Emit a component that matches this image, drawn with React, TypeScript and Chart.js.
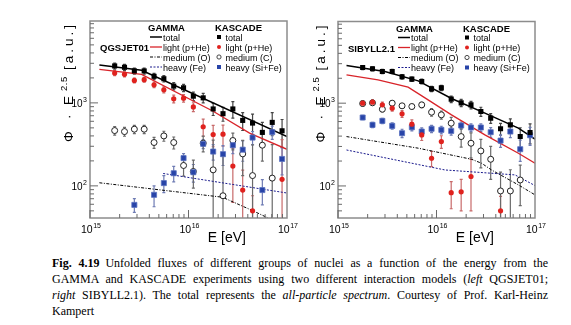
import React, { useEffect, useRef } from "react";
import { Chart, registerables } from "chart.js";
Chart.register(...registerables);

// ---------- DATA ----------
const energies = [1.78e15, 2.24e15, 2.82e15, 3.55e15, 4.47e15, 5.62e15, 7.08e15, 8.91e15, 1.12e16, 1.41e16, 1.78e16, 2.24e16, 2.82e16, 3.55e16, 4.47e16, 5.62e16, 7.08e16, 8.91e16];

const xTicks = [1e15, 1e16, 1e17];
const xTickLabels = [["10", "15"], ["10", "16"], ["10", "17"]];
const yTicks = [100, 1000];
const yTickLabels = [["10", "2"], ["10", "3"]];

// QGSJET01 – KASCADE unfolded fluxes
const qTotal = [2786, 2685, 2427, 2427, 2089, 1955, 1593, 1520, 1205, 1150, 845, 741, 845, 615, 571, 441, 582, 461];
const qTotalErr = [230, 220, 200, 200, 180, 170, 160, 150, 140, 150, 140, 140, 190, 150, 160, 140, 180, 170];
const qLight = [2291, 2208, 1866, 1902, 1655, 1439, 1118, 1139, 894, 516, 416, 420, 173, 89, 50, null, null, 120];
const qLightErr = [160, 150, 130, 130, 130, 120, 120, 120, 110, 120, 120, 120, 110, 66, 26, null, null, 240];
const qMedium = [464, 451, 482, 482, 333, 400, 333, 176, 149, 327, 156, 76, 352, 243, 133, 309, 124, null];
const qMediumErr = [55, 55, 55, 55, 50, 55, 55, 45, 55, 70, 200, 150, 80, 110, 180, 110, 190, null];
const qHeavy = [null, null, 59, null, 78, 108, 142, 216, 146, 321, 259, 241, 309, 273, 382, 89, 444, 211];
const qHeavyErr = [null, null, 11, null, 22, 25, 30, 28, 35, 40, 55, 65, 65, 75, 70, 30, 80, 75];

// QGSJET01 – GAMMA model lines
const qLineTotalE = [1.245e15, 3.34e15, 1e17];
const qLineTotal = [2864, 2472, 393];
const qLineLightE = [1.245e15, 3.34e15, 1.78e16, 4.17e16, 1e17];
const qLineLight = [2541, 2208, 793, 433, 276];
const qLineMediumE = [1.245e15, 2.21e16, 4.52e16, 1e17];
const qLineMedium = [109, 73, 50, 32];
const qLineHeavyE = [5.53e15, 1e17];
const qLineHeavy = [141, 82];

// SIBYLL2.1 – KASCADE unfolded fluxes
const sTotal = [2699, 2601, 2416, 2416, 2083, 1951, 1828, 1490, 1531, 1118, 1009, 954, 793, 659, 490, 547, 395, 442];
const sTotalErr = [150, 150, 140, 140, 130, 120, 120, 110, 110, 100, 100, 100, 100, 90, 80, 100, 110, 120];
const sLight = [1000, 1028, 954, 871, 743, 557, 414, 216, 344, 83, 85, 130, null, null, 50, null, null, null];
const sLightErr = [70, 70, 80, 70, 70, 70, 60, 45, 60, 30, 35, 80, null, null, 25, null, null, null];
const sMedium = [990, 1010, 846, 1000, 929, 911, 954, 778, 723, 573, 395, 328, 265, 210, 87, 87, 118, null];
const sMediumErr = [60, 60, 60, 60, 60, 60, 70, 80, 80, 100, 100, 110, 100, 90, 60, 70, 60, null];
const sHeavy = [671, 547, 611, 532, 434, 512, 454, 490, 476, 462, 537, 508, 508, 446, 353, 454, 278, 410];
const sHeavyErr = [40, 40, 45, 45, 50, 50, 50, 50, 50, 50, 55, 55, 55, 60, 60, 70, 80, 100];

// SIBYLL2.1 – GAMMA model lines
const sLineTotalE = [1.22e15, 2.99e15, 6.52e15, 1.42e16, 3.1e16, 6.78e16, 1e17];
const sLineTotal = [2856, 2416, 1862, 1139, 757, 499, 367];
const sLineLightE = [1.22e15, 2.55e15, 5.15e15, 8.22e15, 1.42e16, 3.1e16, 6.78e16, 1e17];
const sLineLight = [2203, 1914, 1562, 1097, 723, 414, 248, 188];
const sLineMediumE = [1.22e15, 6.52e15, 2.27e16, 2.87e16, 3.62e16, 6.78e16, 1e17];
const sLineMedium = [395, 286, 210, 188, 156, 103, 78];
const sLineHeavyE = [1.22e15, 1.22e16, 6.27e16, 1e17];
const sLineHeavy = [272, 156, 136, 101];

const gammaLabels = ["total", "light (p+He)", "medium (O)", "heavy (Fe)"];
const kascadeLabels = ["total", "light (p+He)", "medium (C)", "heavy (Si+Fe)"];

// ---------- STYLE ----------
const SANS = '"Liberation Sans", Arial, sans-serif';
const C_BLACK = "#000000";
const C_RED = "#e0221e";
const C_RED_LINE = "#d8242a";
const C_BLUE = "#2844a8";
const C_BLUE_LINE = "#1a1a8c";
const C_FRAME = "#8c8c8c";

function pts(values: (number | null)[], errs: (number | null)[] | null, xs: number[]) {
  const out: any[] = [];
  values.forEach((v, i) => {
    if (v == null) return;
    out.push({ x: xs[i], y: v, e: errs ? errs[i] : null });
  });
  return out;
}

function drawSup(ctx: CanvasRenderingContext2D, base: string, sup: string, x: number, y: number, align: "center" | "right" | "left", size: number, supSize: number, rise: number) {
  ctx.font = `${size}px ${SANS}`;
  const wb = ctx.measureText(base).width;
  ctx.font = `${supSize}px ${SANS}`;
  const ws = ctx.measureText(sup).width;
  const total = wb + ws + 0.5;
  let sx = x;
  if (align === "center") sx = x - total / 2;
  else if (align === "right") sx = x - total;
  ctx.textAlign = "left";
  ctx.textBaseline = "alphabetic";
  ctx.font = `${size}px ${SANS}`;
  ctx.fillText(base, sx, y);
  ctx.font = `${supSize}px ${SANS}`;
  ctx.fillText(sup, sx + wb + 0.5, y - rise);
}

// draw text char by char with extra gap, returns end x
function spaced(ctx: CanvasRenderingContext2D, s: string, x: number, y: number, gap: number) {
  let cx = x;
  for (const ch of s) {
    ctx.fillText(ch, cx, y);
    cx += ctx.measureText(ch).width + gap;
  }
  return cx;
}

function drawMarker(ctx: CanvasRenderingContext2D, kind: string, x: number, y: number) {
  ctx.save();
  if (kind === "square") {
    ctx.fillStyle = C_BLACK;
    ctx.fillRect(x - 2, y - 2, 4, 4);
  } else if (kind === "red") {
    ctx.fillStyle = C_RED;
    ctx.beginPath();
    ctx.arc(x, y, 2, 0, Math.PI * 2);
    ctx.fill();
  } else if (kind === "open") {
    ctx.strokeStyle = "#333";
    ctx.lineWidth = 0.9;
    ctx.beginPath();
    ctx.arc(x, y, 2.1, 0, Math.PI * 2);
    ctx.stroke();
  } else {
    ctx.fillStyle = C_BLUE;
    ctx.fillRect(x - 2, y - 2, 4, 4);
  }
  ctx.restore();
}

type PanelDef = {
  model: string;
  pad: { left: number; right: number; top: number; bottom: number };
  yTitleX: number;
  total: number[]; totalErr: number[];
  light: (number | null)[]; lightErr: (number | null)[];
  medium: (number | null)[]; mediumErr: (number | null)[];
  heavy: (number | null)[]; heavyErr: (number | null)[];
  lines: { e: number[]; v: number[] }[];
};

function makePlugin(p: PanelDef) {
  return {
    id: "decor",
    beforeDatasetsDraw(chart: any) {
      const ctx: CanvasRenderingContext2D = chart.ctx;
      const a = chart.chartArea;
      const ys = chart.scales.y;
      ctx.save();
      ctx.beginPath();
      ctx.rect(a.left, a.top, a.right - a.left, a.bottom - a.top);
      ctx.clip();
      chart.data.datasets.forEach((ds: any, i: number) => {
        if (!ds.errorColor) return;
        const meta = chart.getDatasetMeta(i);
        ctx.strokeStyle = ds.errorColor;
        ctx.lineWidth = 1.2;
        ds.data.forEach((pt: any, j: number) => {
          if (pt.e == null) return;
          const el = meta.data[j];
          const px = el.x;
          const hi = ys.getPixelForValue(pt.y + pt.e);
          const lv = pt.y - pt.e;
          const lo = lv > ys.min ? ys.getPixelForValue(lv) : a.bottom + 3;
          ctx.beginPath();
          ctx.moveTo(px, hi);
          ctx.lineTo(px, lo);
          ctx.moveTo(px - 1.5, hi);
          ctx.lineTo(px + 1.5, hi);
          ctx.moveTo(px - 1.5, lo);
          ctx.lineTo(px + 1.5, lo);
          ctx.stroke();
        });
      });
      ctx.restore();
    },
    afterDatasetsDraw(chart: any) {
      const ctx: CanvasRenderingContext2D = chart.ctx;
      const a = chart.chartArea;
      const xs = chart.scales.x;
      const ys = chart.scales.y;
      ctx.save();
      // frame
      ctx.strokeStyle = C_FRAME;
      ctx.lineWidth = 1.5;
      ctx.strokeRect(a.left, a.top, a.right - a.left, a.bottom - a.top);
      // ticks
      ctx.strokeStyle = "#6a6a6a";
      ctx.lineWidth = 1;
      ctx.beginPath();
      for (let k = 15; k <= 16; k++) {
        for (let d = 1; d <= 9; d++) {
          const v = d * Math.pow(10, k);
          if (v < xs.min || v > xs.max) continue;
          const px = xs.getPixelForValue(v);
          const len = d === 1 ? 8 : 4;
          ctx.moveTo(px, a.bottom);
          ctx.lineTo(px, a.bottom - len);
        }
      }
      for (let k = 1; k <= 3; k++) {
        for (let d = 1; d <= 9; d++) {
          const v = d * Math.pow(10, k);
          if (v < ys.min || v > ys.max) continue;
          const py = ys.getPixelForValue(v);
          const len = d === 1 ? 8 : 4;
          ctx.moveTo(a.left, py);
          ctx.lineTo(a.left + len, py);
        }
      }
      ctx.stroke();
      // tick labels
      ctx.fillStyle = "#000";
      xTicks.forEach((v, i) => {
        const px = xs.getPixelForValue(v);
        drawSup(ctx, xTickLabels[i][0], xTickLabels[i][1], px + 1, a.bottom + 15, "center", 10.5, 7, 5);
      });
      yTicks.forEach((v, i) => {
        const py = ys.getPixelForValue(v);
        drawSup(ctx, yTickLabels[i][0], yTickLabels[i][1], a.left - 3, py + 4, "right", 10, 7, 5);
      });
      // x title
      ctx.font = `14px ${SANS}`;
      ctx.textAlign = "right";
      ctx.textBaseline = "alphabetic";
      ctx.fillText("E [eV]", a.right - 41, a.bottom + 24);
      // y title (rotated, reads bottom-to-top, ends at the frame top)
      ctx.save();
      ctx.translate(p.yTitleX, a.top);
      ctx.rotate(-Math.PI / 2);
      ctx.textAlign = "left";
      ctx.textBaseline = "alphabetic";
      ctx.font = `13.5px ${SANS}`;
      ctx.fillText("\u03A6", -121, 0);
      ctx.fillText("\u00B7", -98, 0);
      ctx.fillText("E", -84, 0);
      ctx.font = `9.5px ${SANS}`;
      spaced(ctx, "2.5", -70, -6, 0.5);
      ctx.font = `13.5px ${SANS}`;
      spaced(ctx, "[a.u.]", -49, 0, 3);
      ctx.restore();

      // legend
      const L = a.left;
      const T = a.top;
      ctx.fillStyle = "#000";
      ctx.textAlign = "left";
      ctx.textBaseline = "alphabetic";
      ctx.font = `bold 9.5px ${SANS}`;
      ctx.fillText("GAMMA", L + 58, T + 10);
      ctx.fillText("KASCADE", L + 125, T + 10);
      ctx.fillText(p.model, L + 10, T + 30);
      const rows = [16, 26, 36, 46];
      const lineStyles = [
        { c: C_BLACK, d: [] as number[], w: 1.5 },
        { c: C_RED_LINE, d: [] as number[], w: 1.3 },
        { c: C_BLACK, d: [3, 1.5, 1, 1.5], w: 1 },
        { c: C_BLUE_LINE, d: [2, 1.5], w: 1 },
      ];
      const kinds = ["square", "red", "open", "blue"];
      rows.forEach((r, i) => {
        const yy = T + r;
        ctx.save();
        ctx.strokeStyle = lineStyles[i].c;
        ctx.lineWidth = lineStyles[i].w;
        ctx.setLineDash(lineStyles[i].d);
        ctx.beginPath();
        ctx.moveTo(L + 60, yy);
        ctx.lineTo(L + 72, yy);
        ctx.stroke();
        ctx.restore();
        ctx.fillStyle = "#000";
        ctx.font = `9px ${SANS}`;
        ctx.fillText(gammaLabels[i], L + 73, yy + 3.5);
        drawMarker(ctx, kinds[i], L + 129, yy);
        ctx.fillStyle = "#000";
        ctx.font = `9px ${SANS}`;
        ctx.fillText(kascadeLabels[i], L + 135.5, yy + 3.5);
      });
      ctx.restore();
    },
  };
}

function makeConfig(p: PanelDef): any {
  const lineStyle = [
    { c: C_BLACK, d: [], w: 1.5 },
    { c: C_RED_LINE, d: [], w: 1.3 },
    { c: C_BLACK, d: [3, 1.5, 1, 1.5], w: 1 },
    { c: C_BLUE_LINE, d: [2, 1.5], w: 1 },
  ];
  const lineSets = p.lines.map((l, i) => ({
    data: l.e.map((e, j) => ({ x: e, y: l.v[j] })),
    showLine: true,
    pointRadius: 0,
    borderColor: lineStyle[i].c,
    borderWidth: lineStyle[i].w,
    borderDash: lineStyle[i].d,
    order: 10 + i,
    clip: 0,
  }));
  const datasets = [
    ...lineSets,
    {
      data: pts(p.total, p.totalErr, energies),
      pointStyle: "rect", pointRadius: 3.6,
      backgroundColor: C_BLACK, borderColor: C_BLACK, borderWidth: 0,
      errorColor: "#454545", order: 1, clip: 0,
    },
    {
      data: pts(p.light, p.lightErr, energies),
      pointStyle: "circle", pointRadius: 2.6,
      backgroundColor: C_RED, borderColor: C_RED, borderWidth: 0,
      errorColor: "#c86a6a", order: 2, clip: 0,
    },
    {
      data: pts(p.heavy, p.heavyErr, energies),
      pointStyle: "rect", pointRadius: 3.6,
      backgroundColor: C_BLUE, borderColor: "#5a72c0", borderWidth: 0.8,
      errorColor: "#6f7cb4", order: 3, clip: 0,
    },
    {
      data: pts(p.medium, p.mediumErr, energies),
      pointStyle: "circle", pointRadius: 3,
      backgroundColor: "#ffffff", borderColor: "#222", borderWidth: 1,
      errorColor: "#6a6a6a", order: 4, clip: 0,
    },
  ];
  return {
    type: "scatter",
    data: { datasets },
    options: {
      animation: false,
      responsive: false,
      events: [],
      layout: { padding: p.pad },
      plugins: { legend: { display: false }, tooltip: { enabled: false } },
      scales: {
        x: { type: "logarithmic", min: 1e15, max: 1e17, display: false },
        y: { type: "logarithmic", min: 41, max: 9700, display: false },
      },
    },
    plugins: [makePlugin(p)],
  };
}

const leftPanel: PanelDef = {
  model: "QGSJET01",
  pad: { left: 90, right: 13, top: 21, bottom: 32 },
  yTitleX: 73,
  total: qTotal, totalErr: qTotalErr,
  light: qLight, lightErr: qLightErr,
  medium: qMedium, mediumErr: qMediumErr,
  heavy: qHeavy, heavyErr: qHeavyErr,
  lines: [
    { e: qLineTotalE, v: qLineTotal },
    { e: qLineLightE, v: qLineLight },
    { e: qLineMediumE, v: qLineMedium },
    { e: qLineHeavyE, v: qLineHeavy },
  ],
};

const rightPanel: PanelDef = {
  model: "SIBYLL2.1",
  pad: { left: 48, right: 36, top: 21.5, bottom: 32 },
  yTitleX: 35,
  total: sTotal, totalErr: sTotalErr,
  light: sLight, lightErr: sLightErr,
  medium: sMedium, mediumErr: sMediumErr,
  heavy: sHeavy, heavyErr: sHeavyErr,
  lines: [
    { e: sLineTotalE, v: sLineTotal },
    { e: sLineLightE, v: sLineLight },
    { e: sLineMediumE, v: sLineMedium },
    { e: sLineHeavyE, v: sLineHeavy },
  ],
};

function Panel({ def, left, width }: { def: PanelDef; left: number; width: number }) {
  const ref = useRef<HTMLCanvasElement>(null);
  useEffect(() => {
    if (!ref.current) return;
    const chart = new Chart(ref.current, makeConfig(def));
    return () => chart.destroy();
  }, [def]);
  return (
    <canvas
      ref={ref}
      width={width}
      height={250}
      style={{ position: "absolute", left, top: 0, width, height: 250 }}
    />
  );
}

export default function App() {
  return (
    <div style={{ position: "fixed", left: 0, top: 0, width: 571, height: 325, background: "#fff", overflow: "hidden" }}>
      <Panel def={leftPanel} left={0} width={300} />
      <Panel def={rightPanel} left={290} width={281} />
      <div
        style={{
          position: "absolute",
          left: 52,
          top: 255,
          width: 496,
          fontFamily: '"Liberation Serif", "Times New Roman", serif',
          fontSize: 12,
          lineHeight: "16px",
          color: "#000",
        }}
      >
        <div style={{ textAlign: "justify", textAlignLast: "justify" }}>
          <b>Fig. 4.19</b>{"\u2002"}Unfolded fluxes of different groups of nuclei as a function of the energy from the
        </div>
        <div style={{ textAlign: "justify", textAlignLast: "justify" }}>
          GAMMA and KASCADE experiments using two different interaction models (<i>left</i> QGSJET01;
        </div>
        <div style={{ textAlign: "justify", textAlignLast: "justify" }}>
          <i>right</i> SIBYLL2.1). The total represents the <i>all-particle spectrum</i>. Courtesy of Prof. Karl-Heinz
        </div>
        <div>Kampert</div>
      </div>
    </div>
  );
}
